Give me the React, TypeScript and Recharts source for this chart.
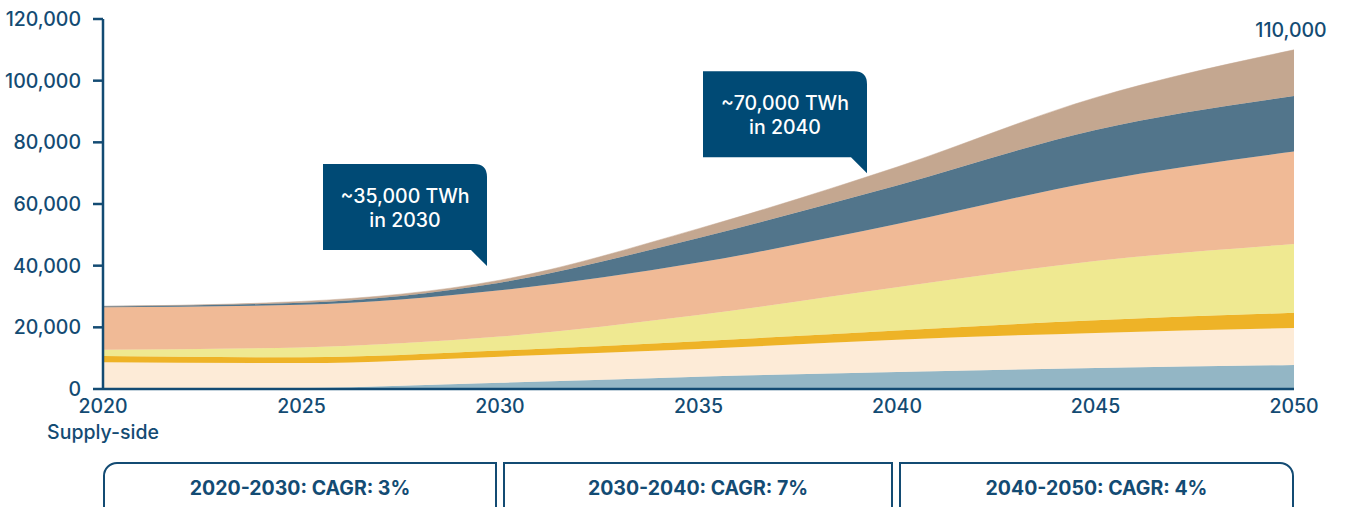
import { Area, AreaChart, ReferenceDot, XAxis, YAxis } from "recharts";

const years = [2020, 2025, 2030, 2035, 2040, 2045, 2050];

// layers from bottom to top, TWh
const lightBlue = [0, 300, 2000, 4000, 5500, 6800, 7800];
const cream = [8700, 8100, 8500, 9000, 10500, 11400, 12000];
const gold = [2000, 1900, 2000, 2500, 3000, 4100, 4900];
const yellow = [2000, 3200, 4500, 8500, 14000, 19200, 22300];
const salmon = [13800, 13800, 15000, 17000, 20500, 25800, 30000];
const slate = [300, 700, 2500, 8000, 12500, 16700, 18000];
const tan = [0, 400, 800, 3000, 6000, 10500, 15000];

const xTicks = [2020, 2025, 2030, 2035, 2040, 2045, 2050];
const yTicks = [0, 20000, 40000, 60000, 80000, 100000, 120000];

const callouts = [
    { year: 2030, value: 35000, line1: "~35,000 TWh", line2: "in 2030" },
    { year: 2040, value: 70000, line1: "~70,000 TWh", line2: "in 2040" },
];
const totalLabel = { year: 2050, value: 110000, text: "110,000" };

const cagrBoxes = ["2020-2030: CAGR: 3%", "2030-2040: CAGR: 7%", "2040-2050: CAGR: 4%"];

const NAVY = "#004a75";
const INK = "#134b73";

const series = [
    { key: "lightBlue", color: "#93b6c5" },
    { key: "cream", color: "#fdebd7" },
    { key: "gold", color: "#eeb327" },
    { key: "yellow", color: "#efe991" },
    { key: "salmon", color: "#f0ba96" },
    { key: "slate", color: "#52758b" },
    { key: "tan", color: "#c4a790" },
];

const data = years.map((year, i) => ({
    year,
    lightBlue: lightBlue[i],
    cream: cream[i],
    gold: gold[i],
    yellow: yellow[i],
    salmon: salmon[i],
    slate: slate[i],
    tan: tan[i],
}));

// offsets of the tail tip from the anchor point
const calloutOffsets = [
    { dx: -13, dy: -15 },
    { dx: -30, dy: 0 },
];

function Callout(props: any, idx: number) {
    const { cx, cy } = props;
    const c = callouts[idx];
    const off = calloutOffsets[idx];
    const tipX = cx + off.dx;
    const tipY = cy + off.dy;
    const w = 164;
    const h = 86;
    const tail = 16;
    const r = 13;
    const right = tipX;
    const left = right - w;
    const bottom = tipY - tail;
    const top = bottom - h;
    const d = `M${left},${top} L${right - r},${top} Q${right},${top} ${right},${top + r} L${right},${tipY} L${right - tail},${bottom} L${left},${bottom} Z`;
    const mid = left + w / 2;
    return (
        <g>
            <path d={d} fill={NAVY} />
            <text x={mid} y={top + 39} textAnchor="middle" fill="#fff" fontSize={19.5} fontFamily="Inter" fontWeight={500}>
                {c.line1}
            </text>
            <text x={mid} y={top + 63} textAnchor="middle" fill="#fff" fontSize={19.5} fontFamily="Inter" fontWeight={500}>
                {c.line2}
            </text>
        </g>
    );
}

function App() {
    const tickStyle = { fill: INK, fontSize: 19.5, fontFamily: "Inter", fontWeight: 500 };
    return (
        <div style={{ position: "absolute", left: 0, top: 0, width: 1346, height: 507, overflow: "hidden", background: "#fff" }}>
            <AreaChart
                width={1346}
                height={430}
                data={data}
                margin={{ top: 19, right: 52, bottom: 11, left: 8 }}
            >
                <XAxis
                    dataKey="year"
                    type="number"
                    domain={[2020, 2050]}
                    ticks={xTicks}
                    tickLine={false}
                    tickSize={6}
                    tickMargin={4}
                    height={30}
                    axisLine={{ stroke: INK, strokeWidth: 2.5 }}
                    tick={tickStyle}
                    interval={0}
                />
                <YAxis
                    type="number"
                    domain={[0, 120000]}
                    ticks={yTicks}
                    width={95}
                    tickSize={10}
                    tickMargin={12}
                    axisLine={{ stroke: INK, strokeWidth: 2.5 }}
                    tickLine={{ stroke: INK, strokeWidth: 2.5 }}
                    tick={tickStyle}
                    tickFormatter={(v: number) => v.toLocaleString("en-US")}
                    interval={0}
                />
                {series.map((s) => (
                    <Area
                        key={s.key}
                        type="monotone"
                        dataKey={s.key}
                        stackId="1"
                        fill={s.color}
                        fillOpacity={1}
                        stroke={s.color}
                        strokeWidth={0.5}
                        isAnimationActive={false}
                    />
                ))}
                {callouts.map((c, i) => (
                    <ReferenceDot
                        key={c.year}
                        x={c.year}
                        y={c.value}
                        r={0}
                        shape={(p: any) => Callout(p, i)}
                    />
                ))}
                <ReferenceDot
                    x={totalLabel.year}
                    y={totalLabel.value}
                    r={0}
                    shape={(p: any) => (
                        <text x={p.cx - 3} y={p.cy - 13} textAnchor="middle" fill={INK} fontSize={19.5} fontFamily="Inter" fontWeight={500}>
                            {totalLabel.text}
                        </text>
                    )}
                />
            </AreaChart>
            <div
                style={{
                    position: "absolute",
                    left: 0,
                    top: 420,
                    width: 206,
                    textAlign: "center",
                    color: INK,
                    fontFamily: "Inter",
                    fontWeight: 500,
                    fontSize: 19.5,
                }}
            >
                Supply-side
            </div>
            {cagrBoxes.map((label, i) => {
                const lefts = [103, 503, 899];
                const widths = [394, 390, 395];
                return (
                    <div
                        key={label}
                        style={{
                            position: "absolute",
                            left: lefts[i],
                            top: 462,
                            width: widths[i],
                            height: 70,
                            boxSizing: "border-box",
                            border: `2.5px solid ${INK}`,
                            borderTopLeftRadius: i === 0 ? 14 : 0,
                            borderTopRightRadius: i === 2 ? 14 : 0,
                            color: INK,
                            fontFamily: "Inter",
                            fontWeight: 700,
                            fontSize: 19.5,
                            textAlign: "center",
                            paddingTop: 12,
                        }}
                    >
                        {label}
                    </div>
                );
            })}
        </div>
    );
}

export default App;
